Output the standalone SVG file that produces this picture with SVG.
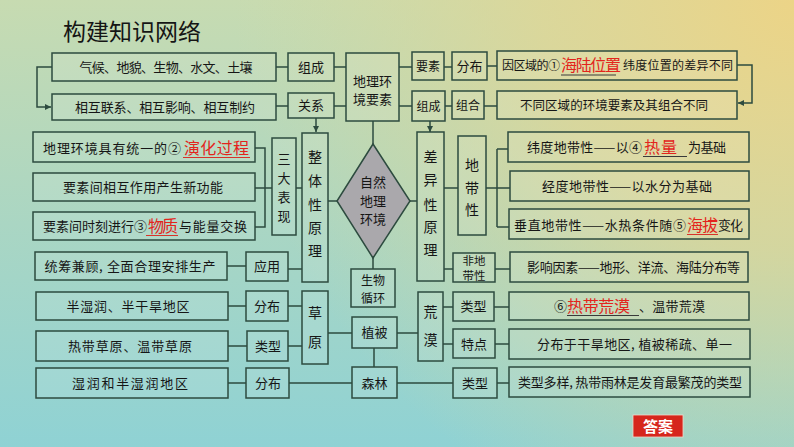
<svg xmlns="http://www.w3.org/2000/svg" width="794" height="447" viewBox="0 0 794 447">
<defs>
<linearGradient id="bgv" x1="0" y1="0" x2="0" y2="1">
<stop offset="0" stop-color="#c7dbb1"/>
<stop offset="0.5" stop-color="#aad6c3"/>
<stop offset="1" stop-color="#8fd2d4"/>
</linearGradient>
<radialGradient id="bgy" cx="794" cy="0" r="560" gradientUnits="userSpaceOnUse">
<stop offset="0" stop-color="#ecd487" stop-opacity="1"/>
<stop offset="0.45" stop-color="#e2d693" stop-opacity="0.75"/>
<stop offset="1" stop-color="#d8d89c" stop-opacity="0"/>
</radialGradient>
<marker id="ar" viewBox="0 0 10 10" refX="10" refY="5" markerWidth="6" markerHeight="6" markerUnits="userSpaceOnUse" orient="auto">
<path d="M0,0 L10,5 L0,10 Z" fill="#2d4b3f"/>
</marker>
<style>
.b{fill:#ffffff;fill-opacity:0.1;stroke:#2d4b3f;stroke-width:1.5}
.t{font-family:"Noto Sans CJK SC","Noto Sans CJK TC",sans-serif;font-size:13px;fill:#161616;text-anchor:middle}
.s{font-family:"Noto Sans CJK SC","Noto Sans CJK TC",sans-serif;font-size:13px;fill:#161616}
.r{font-family:"Noto Sans CJK SC","Noto Sans CJK TC",sans-serif;font-size:16px;fill:#e3241c}
.v{font-size:14px}
.l{stroke:#2d4b3f;stroke-width:1.5;fill:none}
.u{stroke:#3a3a3a;stroke-width:1}
.ur{stroke:#d8332a;stroke-width:1}
</style>
</defs>
<rect x="0" y="0" width="794" height="447" fill="url(#bgv)"/>
<rect x="0" y="0" width="794" height="447" fill="url(#bgy)"/>

<text x="63" y="40" font-family="Noto Sans CJK SC,sans-serif" font-size="23" fill="#151515">构建知识网络</text>

<g id="connectors">
<path class="l" d="M276,67 H288 M334,67 H346 M276,106 H288 M334,106 H346"/>
<path class="l" d="M399,67 H412 M444,67 H452 M487,66 H497 M399,106 H412 M445,106 H452 M484,106 H497"/>
<path class="l" d="M52,67 H37 V107 H51" marker-end="url(#ar)"/>
<path class="l" d="M737,65 H752 V103 H738" marker-end="url(#ar)"/>
<path class="l" d="M316,118 V132" marker-end="url(#ar)"/>
<path class="l" d="M430,121 V132" marker-end="url(#ar)"/>
<path class="l" d="M373,121 V144"/>
<path class="l" d="M337,201 H328 M410,201 H417 M373,258 V269"/>
<path class="l" d="M255,148 H265 V227 H255 M255,188 H272 M296,188 H302"/>
<path class="l" d="M227,266 H246 M288,269 H302"/>
<path class="l" d="M228,306 H246 M288,306 H302 M228,346 H247 M288,346 H302 M328,333 H352 M374,348 V367 M228,383 H246 M289,383 H352 M397,333 H418 M397,383 H453"/>
<path class="l" d="M444,188 H458 M486,188 H510 M497,149 V227 M497,149 H508 M497,227 H509 M444,269 H453 M495,269 H510"/>
<path class="l" d="M443,307 H453 M443,344 H453 M494,307 H509 M495,344 H509 M497,383 H509"/>
</g>

<g id="n-a1"><rect class="b" x="52" y="53" width="224" height="28"/><text class="t" x="166" y="72" textLength="173">气候、地貌、生物、水文、土壤</text></g>
<g id="n-a2"><rect class="b" x="52" y="94" width="224" height="26"/><text class="t" x="165" y="112" textLength="180">相互联系、相互影响、相互制约</text></g>
<g id="n-zucheng1"><rect class="b" x="288" y="53" width="46" height="28"/><text class="t" x="311" y="72">组成</text></g>
<g id="n-guanxi"><rect class="b" x="288" y="93" width="46" height="25"/><text class="t" x="311" y="110">关系</text></g>
<g id="n-dili"><rect class="b" x="346" y="53" width="53" height="68"/><text class="t" x="372.5" y="86">地理环<tspan x="372.5" dy="18">境要素</tspan></text></g>
<g id="n-yaosu"><rect class="b" x="412" y="52" width="32" height="28"/><text class="t" x="428" y="71" style="font-size:12px">要素</text></g>
<g id="n-fenbu1"><rect class="b" x="452" y="52" width="35" height="28"/><text class="t" x="469.5" y="71">分布</text></g>
<g id="n-zucheng2"><rect class="b" x="412" y="91" width="33" height="30"/><text class="t" x="428.5" y="111" style="font-size:12px">组成</text></g>
<g id="n-zuhe"><rect class="b" x="452" y="91" width="32" height="28"/><text class="t" x="468" y="110" style="font-size:12px">组合</text></g>
<g id="n-r1"><rect class="b" x="497" y="51" width="240" height="29"/>
<text class="s" x="502" y="70" textLength="58" style="font-size:12px">因区域的①</text>
<text class="r" x="561" y="71" textLength="60">海陆位置</text>
<line class="u" x1="561" y1="75" x2="616" y2="75"/>
<text class="s" x="623" y="70" textLength="110" style="font-size:12px">纬度位置的差异不同</text></g>
<g id="n-r2"><rect class="b" x="497" y="91" width="240" height="28"/><text class="t" x="614" y="110" textLength="188" style="font-size:12.5px">不同区域的环境要素及其组合不同</text></g>

<g id="n-b1"><rect class="b" x="33" y="132" width="222" height="30"/>
<text class="s" x="43" y="153" textLength="138">地理环境具有统一的②</text>
<text class="r" x="184" y="154" textLength="65">演化过程</text>
<line class="ur" x1="183" y1="157.5" x2="250" y2="157.5"/></g>
<g id="n-b2"><rect class="b" x="33" y="173" width="222" height="28"/><text class="t" x="143" y="192" textLength="160">要素间相互作用产生新功能</text></g>
<g id="n-b3"><rect class="b" x="33" y="212" width="222" height="28"/>
<text class="s" x="43" y="231" textLength="104">要素间时刻进行③</text>
<text class="r" x="148" y="232" textLength="30">物质</text>
<line class="ur" x1="146" y1="235.5" x2="178" y2="235.5"/>
<text class="s" x="179" y="231" textLength="68">与能量交换</text></g>
<g id="n-sanda"><rect class="b" x="272" y="138" width="24" height="97"/>
<text class="t" x="284" y="164">三</text><text class="t" x="284" y="183">大</text><text class="t" x="284" y="202">表</text><text class="t" x="284" y="221">现</text></g>
<g id="n-zhengti"><rect class="b" x="302" y="133" width="26" height="149"/>
<text class="t v" x="315" y="162">整</text><text class="t v" x="315" y="186">体</text><text class="t v" x="315" y="210">性</text><text class="t v" x="315" y="233">原</text><text class="t v" x="315" y="256">理</text></g>
<g id="n-b4"><rect class="b" x="35" y="252" width="192" height="28"/><text class="t" x="130" y="271" textLength="171">统筹兼顾, 全面合理安排生产</text></g>
<g id="n-yingyong"><rect class="b" x="246" y="252" width="42" height="29"/><text class="t" x="267" y="271">应用</text></g>

<g id="n-ziran"><polygon points="373,144 410,201 373,258 337,201" fill="#aaa8ac" stroke="#2d4b3f" stroke-width="1.5"/>
<text class="t" x="373" y="187">自然<tspan x="373" dy="18.5">地理</tspan><tspan x="373" dy="18.5">环境</tspan></text></g>
<g id="n-shengwu"><rect class="b" x="351" y="269" width="44" height="38"/><text class="t" x="373" y="285" style="font-size:12px">生物<tspan x="373" dy="18">循环</tspan></text></g>

<g id="n-c1"><rect class="b" x="36" y="292" width="192" height="28"/><text class="t" x="128" y="311" textLength="123">半湿润、半干旱地区</text></g>
<g id="n-fenbu2"><rect class="b" x="246" y="291" width="42" height="30"/><text class="t" x="267" y="311">分布</text></g>
<g id="n-caoyuan"><rect class="b" x="302" y="291" width="26" height="73"/><text class="t v" x="315" y="318">草</text><text class="t v" x="315" y="347">原</text></g>
<g id="n-c2"><rect class="b" x="36" y="331" width="192" height="30"/><text class="t" x="130" y="351" textLength="124">热带草原、温带草原</text></g>
<g id="n-leixing1"><rect class="b" x="247" y="331" width="41" height="30"/><text class="t" x="268" y="351">类型</text></g>
<g id="n-c3"><rect class="b" x="36" y="368" width="192" height="30"/><text class="t" x="130" y="388" textLength="116">湿润和半湿润地区</text></g>
<g id="n-fenbu3"><rect class="b" x="246" y="368" width="43" height="30"/><text class="t" x="268" y="388">分布</text></g>
<g id="n-zhibei"><rect class="b" x="352" y="317" width="45" height="31"/><text class="t" x="374.5" y="337">植被</text></g>
<g id="n-senlin"><rect class="b" x="352" y="367" width="45" height="31"/><text class="t" x="374.5" y="388">森林</text></g>

<g id="n-chayi"><rect class="b" x="417" y="132" width="27" height="149"/>
<text class="t v" x="430.5" y="162">差</text><text class="t v" x="430.5" y="185">异</text><text class="t v" x="430.5" y="210">性</text><text class="t v" x="430.5" y="232">原</text><text class="t v" x="430.5" y="255">理</text></g>
<g id="n-didaixing"><rect class="b" x="458" y="136" width="28" height="99"/>
<text class="t v" x="472" y="170">地</text><text class="t v" x="472" y="193">带</text><text class="t v" x="472" y="215">性</text></g>
<g id="n-d1"><rect class="b" x="508" y="132" width="241" height="30"/>
<text class="s" x="527" y="152" textLength="115">纬度地带性——以④</text>
<text class="r" x="644" y="153" textLength="33">热量</text>
<line class="u" x1="643" y1="156.5" x2="687" y2="156.5"/>
<text class="s" x="688" y="152" textLength="38">为基础</text></g>
<g id="n-d2"><rect class="b" x="510" y="171" width="239" height="30"/><text class="t" x="627" y="191" textLength="170">经度地带性——以水分为基础</text></g>
<g id="n-d3"><rect class="b" x="509" y="209" width="240" height="30"/>
<text class="s" x="514" y="230" textLength="172">垂直地带性——水热条件随⑤</text>
<text class="r" x="687" y="231" textLength="31">海拔</text>
<line class="ur" x1="687" y1="234.5" x2="718" y2="234.5"/>
<text class="s" x="718" y="230" textLength="25">变化</text></g>
<g id="n-feidi"><rect class="b" x="453" y="253" width="42" height="29"/><text class="t" x="474" y="265" style="font-size:11.5px">非地<tspan x="474" dy="14.5">带性</tspan></text></g>
<g id="n-d4"><rect class="b" x="510" y="252" width="238" height="30"/><text class="t" x="633.5" y="272" textLength="213">影响因素——地形、洋流、海陆分布等</text></g>

<g id="n-huangmo"><rect class="b" x="418" y="292" width="25" height="69"/><text class="t v" x="430.5" y="317">荒</text><text class="t v" x="430.5" y="345">漠</text></g>
<g id="n-leixing2"><rect class="b" x="453" y="292" width="41" height="29"/><text class="t" x="473.5" y="311">类型</text></g>
<g id="n-tedian"><rect class="b" x="453" y="329" width="42" height="29"/><text class="t" x="474" y="349">特点</text></g>
<g id="n-e1"><rect class="b" x="509" y="292" width="240" height="28"/>
<text class="s" x="554" y="311">⑥</text>
<text class="r" x="567" y="312" textLength="63">热带荒漠</text>
<line class="u" x1="567" y1="315.5" x2="639" y2="315.5"/>
<text class="s" x="639" y="311" textLength="66">、温带荒漠</text></g>
<g id="n-e2"><rect class="b" x="509" y="329" width="241" height="30"/><text class="t" x="634.5" y="349" textLength="195">分布于干旱地区, 植被稀疏、单一</text></g>
<g id="n-leixing3"><rect class="b" x="453" y="368" width="44" height="30"/><text class="t" x="475" y="388">类型</text></g>
<g id="n-e3"><rect class="b" x="509" y="367" width="241" height="30"/><text class="t" x="630" y="387" textLength="224">类型多样, 热带雨林是发育最繁茂的类型</text></g>

<g id="n-daan"><rect x="633" y="415" width="50" height="22" fill="#d6261c" stroke="#f0d8c8" stroke-width="0.8"/><text x="658" y="432" text-anchor="middle" font-family="Noto Sans CJK SC,sans-serif" font-size="15" font-weight="bold" fill="#ffffff">答案</text></g>
</svg>
